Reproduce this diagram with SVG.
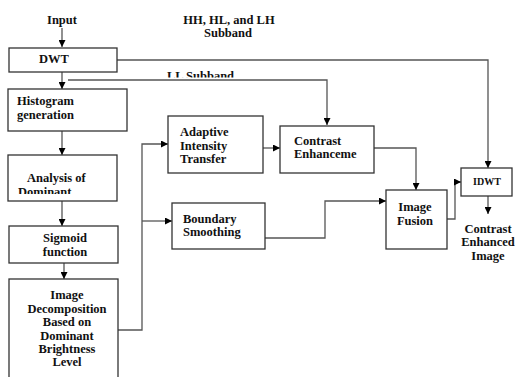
<svg xmlns="http://www.w3.org/2000/svg" width="518" height="377" viewBox="0 0 518 377">
<style>
.box{fill:#fff;stroke:#333;stroke-width:1.3}
.ln{fill:none;stroke:#555;stroke-width:1.3}
.t{font-family:"Liberation Serif","DejaVu Serif",serif;font-weight:bold;font-size:12.5px;fill:#111}
.c{text-anchor:middle}
</style>
<defs>
<marker id="ah" viewBox="0 0 10 10" refX="10" refY="5" markerWidth="7" markerHeight="7" markerUnits="userSpaceOnUse" orient="auto">
<path d="M0,0L10,5L0,10z" fill="#000"/>
</marker>
<clipPath id="clipDom"><rect x="0" y="150" width="130" height="44"/></clipPath>
<clipPath id="clipLL"><rect x="150" y="60" width="120" height="17.5"/></clipPath>
</defs>
<rect width="518" height="377" fill="#fff"/>
<g id="connectors">
<path class="ln" d="M62,28V47" marker-end="url(#ah)"/>
<path class="ln" d="M62,72V89" marker-end="url(#ah)"/>
<path class="ln" d="M117,60H488V168" marker-end="url(#ah)"/>
<path class="ln" d="M68,80H327V125" marker-end="url(#ah)"/>
<path class="ln" d="M62,131V155" marker-end="url(#ah)"/>
<path class="ln" d="M62,201V226" marker-end="url(#ah)"/>
<path class="ln" d="M64,263V279" marker-end="url(#ah)"/>
<path class="ln" d="M116,330H142V144H168" marker-end="url(#ah)"/>
<path class="ln" d="M142,221H172" marker-end="url(#ah)"/>
<path class="ln" d="M263,148H280" marker-end="url(#ah)"/>
<path class="ln" d="M374,148H416V190" marker-end="url(#ah)"/>
<path class="ln" d="M265,238H325V201H386" marker-end="url(#ah)"/>
<path class="ln" d="M447,219H455V182H461" marker-end="url(#ah)"/>
<path class="ln" d="M488,196V214" marker-end="url(#ah)"/>
</g>
<g id="labels">
<text class="t c" x="62" y="24">Input</text>
<text class="t c" x="229" y="24">HH, HL, and LH</text>
<text class="t c" x="228" y="37">Subband</text>
<text class="t" x="167" y="79.5" clip-path="url(#clipLL)">LL Subband</text>
</g>
<g id="dwt">
<rect class="box" x="9" y="48" width="108" height="24"/>
<text class="t" x="39" y="63">DWT</text>
</g>
<g id="histogram">
<rect class="box" x="8" y="89" width="119" height="42"/>
<text class="t" x="17" y="105">Histogram</text>
<text class="t" x="17" y="119">generation</text>
</g>
<g id="analysis">
<rect class="box" x="8" y="155" width="109" height="46"/>
<text class="t" x="27" y="182">Analysis of</text>
<text class="t" x="18" y="196" clip-path="url(#clipDom)">Dominant</text>
</g>
<g id="sigmoid">
<rect class="box" x="9" y="226" width="109" height="37"/>
<text class="t c" x="65" y="242">Sigmoid</text>
<text class="t c" x="65" y="256">function</text>
</g>
<g id="decomposition">
<rect class="box" x="9" y="279" width="109" height="105"/>
<text class="t c" x="67" y="299">Image</text>
<text class="t c" x="67" y="313">Decomposition</text>
<text class="t c" x="67" y="326">Based on</text>
<text class="t c" x="67" y="340">Dominant</text>
<text class="t c" x="67" y="353">Brightness</text>
<text class="t c" x="67" y="366">Level</text>
</g>
<g id="adaptive">
<rect class="box" x="168" y="116" width="95" height="57"/>
<text class="t" x="180" y="136">Adaptive</text>
<text class="t" x="180" y="150">Intensity</text>
<text class="t" x="180" y="163">Transfer</text>
</g>
<g id="contrast">
<rect class="box" x="280" y="126" width="94" height="47"/>
<text class="t" x="294" y="145">Contrast</text>
<text class="t" x="294" y="158">Enhanceme</text>
</g>
<g id="boundary">
<rect class="box" x="172" y="203" width="93" height="46"/>
<text class="t" x="183" y="223">Boundary</text>
<text class="t" x="183" y="236">Smoothing</text>
</g>
<g id="fusion">
<rect class="box" x="386" y="190" width="61" height="59"/>
<text class="t c" x="415" y="211">Image</text>
<text class="t c" x="415" y="225">Fusion</text>
</g>
<g id="idwt">
<rect class="box" x="461" y="168" width="51" height="28"/>
<text class="t c" x="487" y="185" style="font-size:10px">IDWT</text>
</g>
<g id="output">
<text class="t c" x="488" y="233">Contrast</text>
<text class="t c" x="488" y="246">Enhanced</text>
<text class="t c" x="488" y="260">Image</text>
</g>
</svg>
